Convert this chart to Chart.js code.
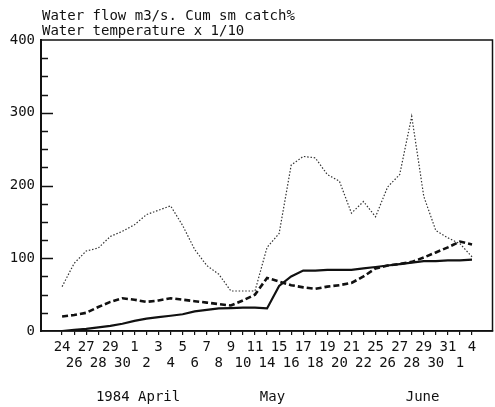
<!DOCTYPE html>
<html>
<head>
<meta charset="utf-8">
<script src="https://cdn.jsdelivr.net/npm/chart.js@4"></script>
<style>
  body { margin: 0; background: #fff; }
</style>
</head>
<body>
<canvas id="grafico" width="495" height="407"></canvas>
<script>
// dias (abril 24 -> junho 4), nem todos os dias foram medidos
const dias = ['24','26','27','28','29','30','1','2','3','4','5','6','7','8','9','10','11','14','15','16','17','18','19','20','21','22','25','26','27','28','29','30','31','1','4'];

const vazaoAgua = [61,93,110,114,130,137,146,160,166,172,145,112,90,78,55,55,55,115,134,228,240,238,215,206,162,178,157,198,215,295,185,138,128,120,102];
const tempAgua = [20,22,25,33,40,45,43,40,42,45,43,41,39,37,35,42,50,73,68,63,60,58,61,63,66,75,86,90,92,95,101,108,115,123,119];
const capturaAcum = [0,1.5,3,5,7,10,14,17,19,21,23,27,29,31,31.5,32,32,31,62,75,83,83,84,84,84,86,88,90,92,94,96,96,97,97,98];

const titulo = ['Water flow m3/s. Cum sm catch%', 'Water temperature x 1/10'];
const meses = ['1984 April', 'May', 'June'];
const mesesEm = [6.3, 17.45, 29.9]; // posicao no eixo (indice do dia)

const FONTE = '"DejaVu Sans Mono", monospace';
const TINTA = '#111';

const pontos = (serie) => serie.map((v, i) => ({ x: i, y: v }));

// moldura, marcas internas do eixo y, titulo e meses
const extrasPlotter = {
    id: 'extrasPlotter',
    afterDraw(chart) {
        const { ctx, chartArea: a, scales: { x, y } } = chart;
        ctx.save();
        ctx.strokeStyle = TINTA;
        ctx.lineWidth = 1.5;
        ctx.strokeRect(a.left, a.top, a.right - a.left, a.bottom - a.top);
        ctx.lineWidth = 2;
        ctx.beginPath();
        ctx.moveTo(a.left, a.top);
        ctx.lineTo(a.left, a.bottom);
        ctx.stroke();

        // marcas para dentro: longas a cada 100, curtas a cada 25
        ctx.lineWidth = 1.5;
        y.ticks.forEach((t, i) => {
            if (i === 0 || i === y.ticks.length - 1) return;
            const py = Math.round(y.getPixelForValue(t.value)) + 0.5;
            const tam = t.value % 100 === 0 ? 12 : 7;
            ctx.beginPath();
            ctx.moveTo(a.left, py);
            ctx.lineTo(a.left + tam, py);
            ctx.stroke();
        });

        ctx.fillStyle = TINTA;
        ctx.textBaseline = 'middle';
        ctx.textAlign = 'left';
        ctx.font = '14px ' + FONTE;
        titulo.forEach((linha, i) => ctx.fillText(linha, a.left + 1, 16 + i * 15));

        ctx.textAlign = 'center';
        meses.forEach((m, i) => ctx.fillText(m, x.getPixelForValue(mesesEm[i]), a.bottom + 66));
        ctx.restore();
    }
};

const ctx = document.getElementById('grafico').getContext('2d');
const grafico = new Chart(ctx, {
    type: 'line',
    data: {
        datasets: [
            {
                label: 'Water flow m3/s',
                data: pontos(vazaoAgua),
                borderColor: '#333',
                borderWidth: 1.2,
                borderDash: [1.5, 1.8],
                pointRadius: 0,
                tension: 0
            },
            {
                label: 'Water temperature x 1/10',
                data: pontos(tempAgua),
                borderColor: TINTA,
                borderWidth: 2.6,
                borderDash: [6, 3],
                pointRadius: 0,
                tension: 0
            },
            {
                label: 'Cum sm catch%',
                data: pontos(capturaAcum),
                borderColor: TINTA,
                borderWidth: 2.2,
                pointRadius: 0,
                tension: 0
            }
        ]
    },
    options: {
        responsive: false,
        animation: false,
        layout: { padding: { top: 40, right: 2.5, left: 0, bottom: 0 } },
        plugins: {
            legend: { display: false },
            tooltip: { enabled: false }
        },
        scales: {
            x: {
                type: 'linear',
                min: -1.75,
                max: 35.7,
                afterBuildTicks: (eixo) => { eixo.ticks = dias.map((_, i) => ({ value: i })); },
                afterFit: (eixo) => { eixo.height = 76; },
                ticks: {
                    autoSkip: false,
                    maxRotation: 0,
                    padding: 5,
                    color: TINTA,
                    font: { family: FONTE, size: 14, lineHeight: 1.1 },
                    callback: (v) => v % 2 === 0 ? dias[v] : ['', dias[v]]
                },
                grid: { drawOnChartArea: false, drawTicks: true, tickLength: 4, color: TINTA, lineWidth: 1.2 },
                border: { display: true, color: TINTA, width: 1.5 }
            },
            y: {
                min: 0,
                max: 400,
                afterFit: (eixo) => { eixo.width = 41; },
                ticks: {
                    stepSize: 25,
                    maxTicksLimit: 20,
                    autoSkip: false,
                    padding: 6,
                    color: TINTA,
                    font: { family: FONTE, size: 14 },
                    callback: (v) => v % 100 === 0 ? v : ''
                },
                grid: { drawOnChartArea: false, drawTicks: false },
                border: { display: true, color: TINTA, width: 2 }
            }
        }
    },
    plugins: [extrasPlotter]
});
</script>
</body>
</html>
